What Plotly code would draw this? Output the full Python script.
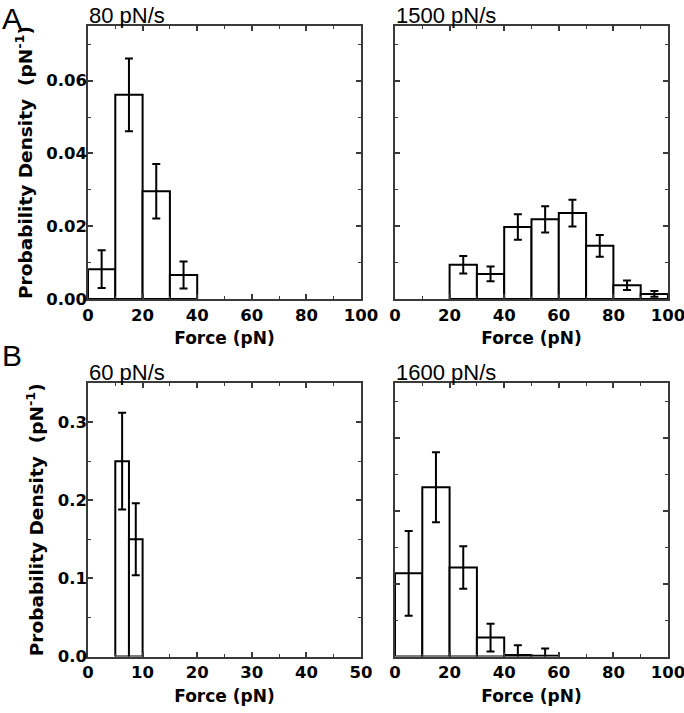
import plotly.graph_objects as go

# ---------------- data ----------------
# Panel A, 80 pN/s
A1_FORCE = [5, 15, 25, 35]
A1_DENSITY = [0.0082, 0.0561, 0.0296, 0.0066]
A1_ERROR = [0.0052, 0.0100, 0.0075, 0.0037]
A1_BIN = 10

# Panel A, 1500 pN/s
A2_FORCE = [25, 35, 45, 55, 65, 75, 85, 95]
A2_DENSITY = [0.0094, 0.0069, 0.0198, 0.0219, 0.0236, 0.0146, 0.0038, 0.0014]
A2_ERROR = [0.0024, 0.0020, 0.0035, 0.0036, 0.0037, 0.0030, 0.0013, 0.0008]
A2_BIN = 10

# Panel B, 60 pN/s
B1_FORCE = [6.25, 8.75]
B1_DENSITY = [0.250, 0.150]
B1_ERROR = [0.062, 0.046]
B1_BIN = 2.5

# Panel B, 1600 pN/s
B2_FORCE = [5, 15, 25, 35, 45, 55]
B2_DENSITY = [0.114, 0.232, 0.122, 0.026, 0.002, 0.001]
B2_ERROR = [0.058, 0.048, 0.029, 0.019, 0.0135, 0.010]
B2_BIN = 10

TITLES = ["80 pN/s", "1500 pN/s", "60 pN/s", "1600 pN/s"]
PANEL_LETTERS = ["A", "B"]
X_TITLE = "Force (pN)"
Y_TITLE = "Probability Density  (pN<sup>-1</sup>)"

# ---------------- figure ----------------
W, H = 684, 713
fig = go.Figure()

panels = [
    (A1_FORCE, A1_DENSITY, A1_ERROR, A1_BIN, "x", "y"),
    (A2_FORCE, A2_DENSITY, A2_ERROR, A2_BIN, "x2", "y2"),
    (B1_FORCE, B1_DENSITY, B1_ERROR, B1_BIN, "x3", "y3"),
    (B2_FORCE, B2_DENSITY, B2_ERROR, B2_BIN, "x4", "y4"),
]
for fx, dens, err, binw, xa, ya in panels:
    fig.add_trace(go.Bar(
        x=fx, y=dens, width=[binw] * len(fx),
        marker=dict(color="white", line=dict(color="black", width=2)),
        error_y=dict(type="data", array=err, visible=True,
                     color="black", thickness=2, width=4),
        cliponaxis=False,
        xaxis=xa, yaxis=ya, showlegend=False, hoverinfo="x+y",
    ))

FRAME = "#3a3a3a"
TICKFONT = dict(family="DejaVu Sans", size=16.5, color="black", weight="bold")
XTITLEFONT = dict(family="DejaVu Sans", size=17, color="black", weight="bold")
YTITLEFONT = dict(family="DejaVu Sans", size=18.5, color="black", weight="bold")


def axis_style(**kw):
    d = dict(showline=True, linecolor=FRAME, linewidth=1.5, mirror="allticks",
             ticks="inside", ticklen=5, tickwidth=1.5, tickcolor=FRAME,
             showgrid=False, zeroline=False, tickfont=TICKFONT, automargin=False,
             ticklabeloverflow="allow",
             minor=dict(ticks="inside", ticklen=3, tickwidth=1.2,
                        tickcolor=FRAME, showgrid=False))
    minor_dtick = kw.pop("minor_dtick", None)
    if minor_dtick is not None:
        d["minor"]["dtick"] = minor_dtick
    d.update(kw)
    return d


def px_dom_x(a, b):
    return [a / W, b / W]


def px_dom_y(top, bottom):
    return [1 - bottom / H, 1 - top / H]


XL = px_dom_x(88, 361)
XR = px_dom_x(395, 668)
YT = px_dom_y(26, 299)
YB = px_dom_y(383, 656.5)

xt = dict(text=X_TITLE, font=XTITLEFONT, standoff=9)
yt = dict(text=Y_TITLE, font=YTITLEFONT, standoff=9)

fig.update_layout(
    template="none",
    width=W, height=H,
    margin=dict(l=0, r=0, t=0, b=0),
    paper_bgcolor="white", plot_bgcolor="white",
    xaxis=axis_style(domain=XL, anchor="y", range=[0, 100], tick0=0, dtick=20,
                     minor_dtick=10, title=xt),
    yaxis=axis_style(domain=YT, anchor="x", range=[0, 0.075], tick0=0, dtick=0.02,
                     minor_dtick=0.01, tickformat=".2f", title=yt,
                     ticklabelstandoff=-4),
    xaxis2=axis_style(domain=XR, anchor="y2", range=[0, 100], tick0=0, dtick=20,
                      minor_dtick=10, title=xt),
    yaxis2=axis_style(domain=YT, anchor="x2", range=[0, 0.075], tick0=0, dtick=0.02,
                      minor_dtick=0.01, showticklabels=False),
    xaxis3=axis_style(domain=XL, anchor="y3", range=[0, 50], tick0=0, dtick=10,
                      minor_dtick=5, title=xt),
    yaxis3=axis_style(domain=YB, anchor="x3", range=[0, 0.35], tick0=0, dtick=0.1,
                      minor_dtick=0.05, tickformat=".1f", title=yt,
                      ticklabelstandoff=-4),
    xaxis4=axis_style(domain=XR, anchor="y4", range=[0, 100], tick0=0, dtick=20,
                      minor_dtick=10, title=xt),
    yaxis4=axis_style(domain=YB, anchor="x4", range=[0, 0.375], tick0=0, dtick=0.1,
                      minor_dtick=0.05, showticklabels=False),
)

TITLE_FONT = dict(family="Liberation Sans", size=22, color="black")
anns = []
for i, t in enumerate(TITLES):
    suf = "" if i == 0 else str(i + 1)
    anns.append(dict(text=t, xref=f"x{suf} domain", yref=f"y{suf} domain",
                     x=0, y=1, xanchor="left", yanchor="bottom",
                     showarrow=False, font=TITLE_FONT, xshift=-1, yshift=-4))

LETTER_FONT = dict(family="Liberation Sans", size=30, color="black")
anns.append(dict(text=PANEL_LETTERS[0], xref="paper", yref="paper", x=0, y=1,
                 xanchor="left", yanchor="top", showarrow=False, font=LETTER_FONT,
                 xshift=0, yshift=0))
anns.append(dict(text=PANEL_LETTERS[1], xref="paper", yref="paper", x=0,
                 y=1 - 340 / H, xanchor="left", yanchor="top", showarrow=False,
                 font=LETTER_FONT, xshift=0, yshift=3))
fig.update_layout(annotations=anns)

fig.write_html("out.html", config={"displayModeBar": False},
               post_script="document.body.style.margin='0px';")
